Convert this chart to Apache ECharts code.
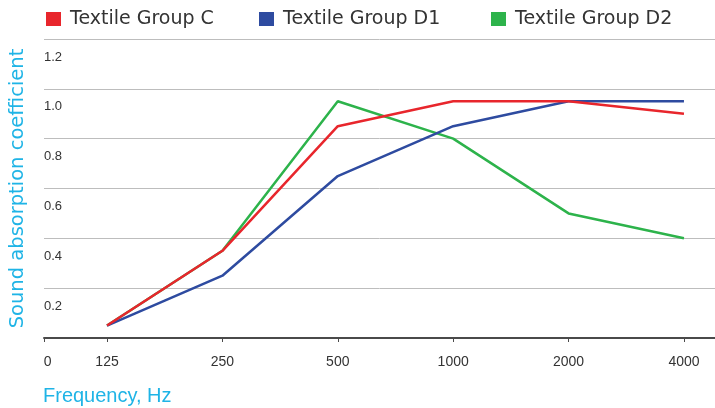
<!DOCTYPE html>
<html>
<head>
<meta charset="utf-8">
<script src="https://cdn.jsdelivr.net/npm/echarts@6/dist/echarts.min.js"></script>
<style>
html,body{margin:0;padding:0;background:#fff;}
#chart{width:715px;height:408px;}
</style>
</head>
<body>
<div id="chart"></div>
<script>
// ---- data ----
var freqLabels = ['125', '250', '500', '1000', '2000', '4000'];
var seriesNames = ['Textile Group C', 'Textile Group D1', 'Textile Group D2'];
var groupC  = [0.05, 0.35, 0.85, 0.95, 0.95, 0.90];
var groupD1 = [0.05, 0.25, 0.65, 0.85, 0.95, 0.95];
var groupD2 = [0.05, 0.35, 0.95, 0.80, 0.50, 0.40];
var yTickLabels = ['0.2', '0.4', '0.6', '0.8', '1.0', '1.2'];

var colors = ['#e8262c', '#2e4ba0', '#2db34b'];
var cyan = '#1fb4e6';
var xMin = 0.4538, xMax = 6.269;

function toPoints(arr) {
  return arr.map(function (v, i) { return [i + 1, v]; });
}
var xTickValues = [xMin].concat(freqLabels.map(function (l, i) { return i + 1; }));

var chart = echarts.init(document.getElementById('chart'));
var seriesData = [groupC, groupD1, groupD2];

function legendAt(idx, left) {
  return {
    data: [seriesNames[idx]],
    left: left, top: 4.5,
    icon: 'rect', itemWidth: 15, itemHeight: 14,
    selectedMode: false,
    textStyle: { fontFamily: 'DejaVu Sans', fontSize: 19, color: '#333', padding: [0, 0, 0, 4] }
  };
}

chart.setOption({
  animation: false,
  color: colors,
  title: {
    text: 'Frequency, Hz',
    left: 38, top: 381,
    textStyle: { fontFamily: 'Liberation Sans', fontSize: 20, fontWeight: 'normal', color: cyan }
  },
  legend: [legendAt(0, 41), legendAt(1, 254), legendAt(2, 486)],
  grid: { left: 44, right: 0, top: 39, bottom: 70, containLabel: false, outerBoundsMode: 'none' },
  xAxis: {
    type: 'value',
    min: xMin, max: xMax,
    offset: 2,
    axisLine: { show: true, lineStyle: { color: '#4a4a4a', width: 2 } },
    axisTick: { show: true, length: 4, lineStyle: { color: '#4a4a4a', width: 1 }, customValues: xTickValues },
    splitLine: { show: false },
    axisLabel: {
      customValues: xTickValues,
      margin: 15,
      fontFamily: 'Liberation Sans', fontSize: 14, color: '#333',
      formatter: function (v) {
        if (v < 1) return '{z|0}';
        return freqLabels[Math.round(v) - 1];
      },
      rich: { z: { fontFamily: 'Liberation Sans', fontSize: 14, color: '#333', padding: [0, 0, 0, 7.5] } }
    }
  },
  yAxis: {
    type: 'value',
    min: 0, max: 1.2, interval: 0.2,
    name: 'Sound absorption coefficient',
    nameLocation: 'middle',
    nameGap: 16,
    nameRotate: 90,
    nameTextStyle: { fontFamily: 'DejaVu Sans', fontSize: 19.5, color: cyan },
    axisLine: { show: false },
    axisTick: { show: false },
    splitLine: { show: true, lineStyle: { color: '#bdbdbd', width: 1 } },
    axisLabel: {
      inside: true,
      margin: 0,
      align: 'left',
      verticalAlign: 'top',
      lineHeight: 13,
      padding: [11.5, 0, 0, 0],
      fontFamily: 'Liberation Sans', fontSize: 13, color: '#333',
      formatter: function (v) {
        var idx = Math.round(v / 0.2) - 1;
        return idx >= 0 ? yTickLabels[idx] : '';
      }
    }
  },
  series: seriesNames.map(function (name, i) {
    return {
      name: name,
      type: 'line',
      data: toPoints(seriesData[i]),
      showSymbol: false,
      symbol: 'none',
      z: i === 0 ? 4 : 3 - i + 1,
      lineStyle: { width: 2.5, color: colors[i] },
      itemStyle: { color: colors[i] }
    };
  })
});
</script>
</body>
</html>
